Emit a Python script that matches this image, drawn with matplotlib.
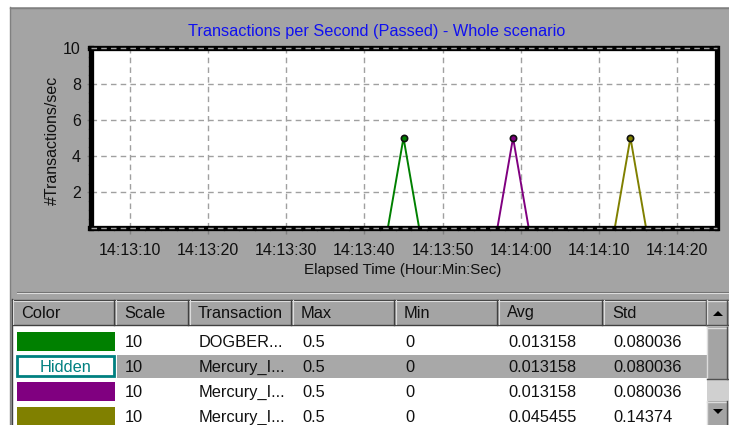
import datetime as dt
import matplotlib
matplotlib.use("Agg")
import matplotlib.pyplot as plt
import matplotlib.dates as mdates
from matplotlib.patches import Rectangle, Polygon

plt.rcParams['font.family'] = ['Liberation Sans', 'DejaVu Sans']

# ---- data -------------------------------------------------------------
title = "Transactions per Second (Passed) - Whole scenario"
x_label = "Elapsed Time (Hour:Min:Sec)"
y_label = "#Transactions/sec"

day = dt.datetime(2000, 1, 1)
def t(h, m, s):
    return day.replace(hour=h, minute=m, second=s)

x_start = t(14, 13, 5)
x_end = t(14, 14, 25)
y_max = 10

# raw per-second rates for each transaction (before scaling)
green_times = [t(14, 13, 43), t(14, 13, 45), t(14, 13, 47)]
green_rates = [0, 0.5, 0]
purple_times = [t(14, 13, 57), t(14, 13, 59), t(14, 14, 1)]
purple_rates = [0, 0.5, 0]
olive_times = [t(14, 14, 12), t(14, 14, 14), t(14, 14, 16)]
olive_rates = [0, 0.5, 0]

series_colors = ["#008000", None, "#800080", "#808000"]   # None -> hidden
table_columns = ["Color", "Scale", "Transaction", "Max", "Min", "Avg", "Std"]
scales = [10, 10, 10, 10]
transactions = ["DOGBER...", "Mercury_I...", "Mercury_I...", "Mercury_I..."]
max_vals = [0.5, 0.5, 0.5, 0.5]
min_vals = [0, 0, 0, 0]
avg_vals = [0.013158, 0.013158, 0.013158, 0.045455]
std_vals = [0.080036, 0.080036, 0.080036, 0.14374]

# ---- figure -----------------------------------------------------------
W, H = 729, 425
fig = plt.figure(figsize=(W / 100, H / 100), dpi=100, facecolor="white")

PANEL = "#a4a4a4"
DARK = "#6e6e6e"
LIGHT = "#dcdcdc"
TXT = 11.8

# window chrome drawn in pixel coordinates
bg = fig.add_axes([0, 0, 1, 1], zorder=0)
bg.set_xlim(0, W)
bg.set_ylim(H, 0)
bg.axis("off")

bg.add_patch(Rectangle((10, 7), W - 10, H - 7, fc=PANEL, ec="none"))
bg.plot([10, W], [7.5, 7.5], color="#808080", lw=1)
bg.plot([10.5, 10.5], [7, H], color="#808080", lw=1)

# splitter between chart and table
bg.plot([17, W], [291.5, 291.5], color=DARK, lw=0.8)
bg.plot([17, W], [293, 293], color=LIGHT, lw=0.8)

bg.text(377, 31, title, color="#1010f0", fontsize=11.7, ha="center", va="center")
bg.text(403, 270, x_label, color="#101010", fontsize=10.9, ha="center", va="center")
bg.text(52, 140, y_label, color="#101010", fontsize=11.5, ha="center", va="center",
        rotation=90)

# ---- chart ------------------------------------------------------------
ax_l, ax_r, ax_t, ax_b = 90.5, 716.5, 47.5, 228.0
ax = fig.add_axes([ax_l / W, 1 - ax_b / H, (ax_r - ax_l) / W, (ax_b - ax_t) / H],
                  zorder=1)
ax.set_facecolor("white")
ax.set_xlim(x_start, x_end)
ax.set_ylim(0, y_max)

for times, rates, color in [(green_times, green_rates, series_colors[0]),
                            (purple_times, purple_rates, series_colors[2]),
                            (olive_times, olive_rates, series_colors[3])]:
    scaled = [r * 10 for r in rates]
    ax.plot(times, scaled, color=color, lw=1.4, zorder=2)
    peak = scaled.index(max(scaled))
    ax.plot([times[peak]], [scaled[peak]], "o", ms=4.5, mfc=color, mec="#101010",
            mew=1.2, zorder=3)

ax.xaxis.set_major_locator(mdates.SecondLocator(bysecond=range(0, 60, 10)))
ax.xaxis.set_minor_locator(mdates.SecondLocator(bysecond=range(0, 60, 2)))
ax.xaxis.set_major_formatter(mdates.DateFormatter("%H:%M:%S"))
ax.set_yticks([2, 4, 6, 8, 10])
ax.set_yticks([v * 0.5 for v in range(21)], minor=True)

ax.set_axisbelow("line")
ax.grid(True, which="major", color="#a0a0a0", ls=(0, (4, 3)), lw=1)
for y in (0, y_max):
    ax.axhline(y, color="#a0a0a0", ls=(0, (4, 3)), lw=1, zorder=4, clip_on=False)

for sp in ax.spines.values():
    sp.set_linewidth(3.8)
    sp.set_color("black")

ax.tick_params(axis="x", which="major", direction="out", length=4, width=1,
               color="#808080", pad=7, labelsize=11.5, labelcolor="#101010")
ax.tick_params(axis="x", which="minor", direction="out", length=2.5, width=1,
               color="#888888")
ax.tick_params(axis="y", which="major", direction="out", length=3, width=1,
               color="#808080", pad=4, labelsize=11.5, labelcolor="#101010")
ax.tick_params(axis="y", which="minor", direction="out", length=2, width=1,
               color="#888888")

# ---- statistics table -------------------------------------------------
col_x = [12, 115, 189, 292, 395, 498, 603, 707]
hdr_top, hdr_bot = 299, 325
row_top = [329, 354, 379, 404]
row_h = 24

# header strip
bg.add_patch(Rectangle((12, hdr_top), W - 12, hdr_bot - hdr_top, fc=PANEL, ec="none"))
bg.plot([12, W], [hdr_top + 0.5, hdr_top + 0.5], color="#404040", lw=1)
bg.plot([12.5, 12.5], [hdr_top, H], color="#404040", lw=1)
bg.plot([13, 707], [hdr_top + 1.5, hdr_top + 1.5], color=LIGHT, lw=0.8)
bg.plot([13, 707], [hdr_bot - 0.5, hdr_bot - 0.5], color="#404040", lw=1)
for i, name in enumerate(table_columns):
    x0, x1 = col_x[i], col_x[i + 1]
    bg.plot([x0 + 1.5, x0 + 1.5], [hdr_top + 1, hdr_bot - 1], color=LIGHT, lw=0.8)
    bg.plot([x1 - 0.5, x1 - 0.5], [hdr_top + 1, hdr_bot], color="#404040", lw=1)
    bg.text(x0 + 9, (hdr_top + hdr_bot) / 2 + 1, name, fontsize=TXT,
            color="#101010", ha="left", va="center")

# body
bg.add_patch(Rectangle((13, hdr_bot), 707 - 13, H - hdr_bot, fc="white", ec="none"))
bg.add_patch(Rectangle((117, row_top[1] + 1), 707 - 117, row_h - 1, fc="#a8a8a8",
                       ec="none"))

for r in range(4):
    yc = row_top[r] + row_h / 2 + 1.5
    color = series_colors[r]
    if color is None:
        bg.add_patch(Rectangle((17.5, row_top[r] + 2), 97, row_h - 4, fc="white",
                               ec="#008080", lw=2))
        bg.text(66, yc, "Hidden", fontsize=TXT, color="#008080",
                ha="center", va="center")
    else:
        bg.add_patch(Rectangle((17, row_top[r] + 3), 98, row_h - 5, fc=color,
                               ec="none"))
    cells = [f"{scales[r]:g}", transactions[r], f"{max_vals[r]:g}",
             f"{min_vals[r]:g}", f"{avg_vals[r]:g}", f"{std_vals[r]:g}"]
    for c, txt in enumerate(cells):
        bg.text(col_x[c + 1] + 10, yc, txt, fontsize=TXT, color="#101010",
                ha="left", va="center")

# scrollbar
def button(x, y, w, h):
    bg.add_patch(Rectangle((x, y), w, h, fc=PANEL, ec="none"))
    bg.plot([x, x + w], [y + 0.5, y + 0.5], color=LIGHT, lw=1)
    bg.plot([x + 0.5, x + 0.5], [y, y + h], color=LIGHT, lw=1)
    bg.plot([x, x + w], [y + h - 0.5, y + h - 0.5], color="#505050", lw=1)
    bg.plot([x + w - 0.5, x + w - 0.5], [y, y + h], color="#505050", lw=1)

bg.add_patch(Rectangle((707, hdr_bot), W - 707, H - hdr_bot, fc="#d0d0d0", ec="none"))
button(707, hdr_top + 1, 21, 25)
button(707, 327, 21, 52)
button(707, 401, 21, 26)
bg.add_patch(Polygon([[713, 316], [723, 316], [718, 311]], closed=True, fc="black"))
bg.add_patch(Polygon([[713, 409], [723, 409], [718, 414]], closed=True, fc="black"))

fig.savefig("out.png", dpi=100, facecolor=fig.get_facecolor())
